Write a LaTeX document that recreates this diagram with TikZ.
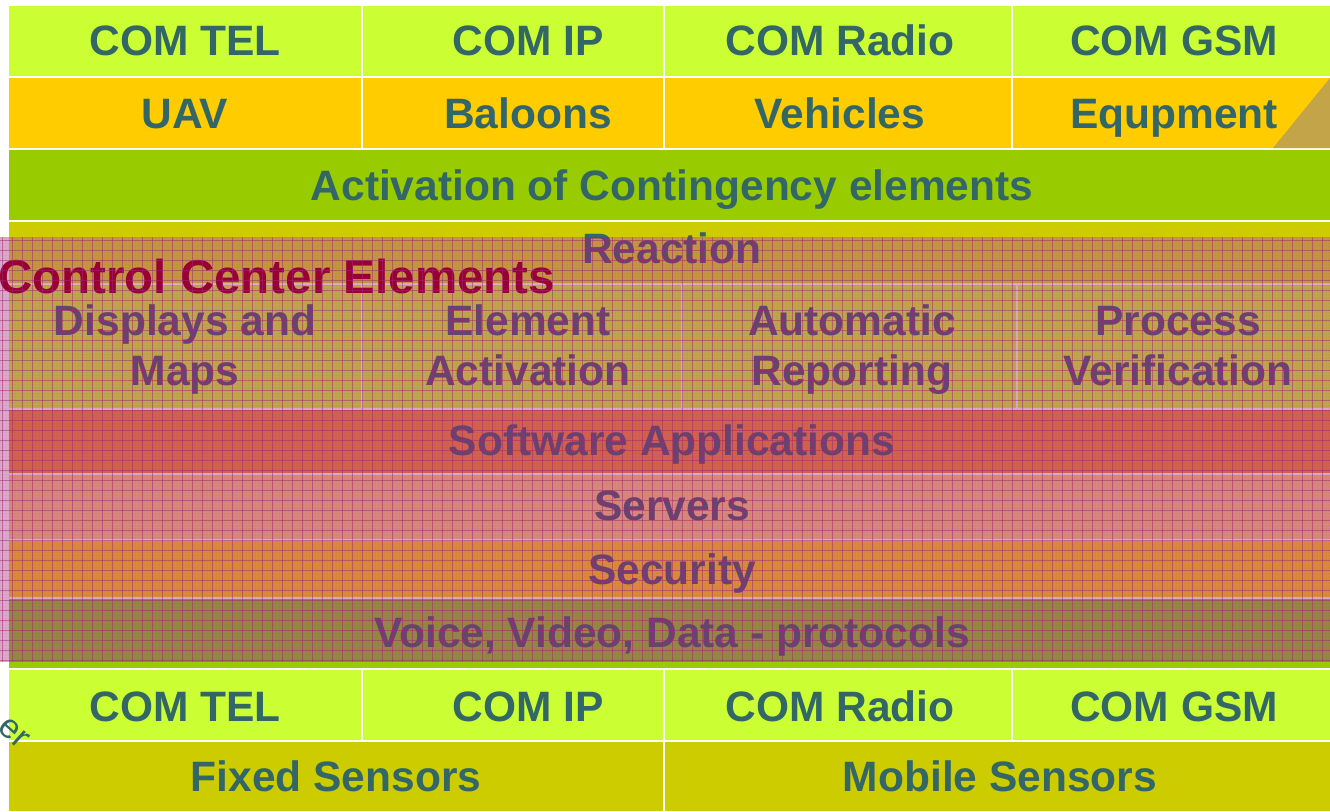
\documentclass[tikz,border=0pt]{standalone}
\usepackage{fontspec}
\setmainfont{Liberation Sans}
\usetikzlibrary{patterns}
\definecolor{limec}{HTML}{CCFF33}
\definecolor{goldc}{HTML}{FFCC00}
\definecolor{greenc}{HTML}{99CC00}
\definecolor{olivec}{HTML}{CCCC00}
\definecolor{tealc}{HTML}{336666}
\definecolor{purpc}{HTML}{654470}
\definecolor{crimc}{HTML}{990033}
\definecolor{pinkc}{HTML}{DCA8CC}
\definecolor{reacc}{HTML}{C59640}
\definecolor{dispc}{HTML}{C0A64A}
\definecolor{softc}{HTML}{D2624E}
\definecolor{servc}{HTML}{D8887A}
\definecolor{secuc}{HTML}{DA8A3A}
\definecolor{voicc}{HTML}{968644}
\definecolor{gridc}{HTML}{A02870}
\definecolor{tric}{HTML}{C4A448}
\newcommand\bigfont{\fontsize{42.5}{50}\selectfont\bfseries}
\tikzset{
  txt/.style={inner sep=0pt, anchor=base, text=tealc, font=\bigfont, align=center},
  otxt/.style={txt, text=purpc},
  sep/.style={white, line width=2pt},
  osep/.style={pinkc, line width=2pt},
  gridline/.style={gridc, line width=0.9pt, opacity=0.5}
}
\begin{document}
\begin{tikzpicture}[x=1pt,y=-1pt]
\useasboundingbox (0,0) rectangle (1330,811);
\fill[white] (0,0) rectangle (1330,811);
% row 1
\fill[limec] (9,6) rectangle (1330,76);
\draw[sep] (362,6) -- (362,76);
\draw[sep] (664,6) -- (664,76);
\draw[sep] (1012,6) -- (1012,76);
\node[txt] (t1) at (185,55) {COM TEL};
\node[txt] (t2) at (528,55) {COM IP};
\node[txt] (t3) at (840,55) {COM Radio};
\node[txt] (t4) at (1174,55) {COM GSM};
% row 2
\fill[goldc] (9,78) rectangle (1330,148);
\fill[tric] (1273,148) -- (1330,78) -- (1330,148) -- cycle;
\draw[sep] (362,78) -- (362,148);
\draw[sep] (664,78) -- (664,148);
\draw[sep] (1012,78) -- (1012,148);
\node[txt] (u1) at (185,128) {UAV};
\node[txt] (u2) at (528,128) {Baloons};
\node[txt] (u3) at (840,128) {Vehicles};
\node[txt] (u4) at (1174,128) {Equpment};
% row 3
\fill[greenc] (9,150) rectangle (1330,220);
\node[txt] (act) at (672,200) {Activation of Contingency elements};
% overlay region
\fill[olivec] (9,222) rectangle (1330,237);
\fill[pinkc] (0,237) rectangle (1330,662);
\fill[reacc] (9,237) rectangle (1330,283);
\fill[dispc] (9,285) rectangle (1330,408);
\draw[osep] (362,285) -- (362,408);
\draw[osep] (682,285) -- (682,408);
\draw[osep] (1017,285) -- (1017,408);
\fill[softc] (9,410) rectangle (1330,473);
\fill[servc] (9,475) rectangle (1330,539);
\fill[secuc] (9,541) rectangle (1330,597);
\fill[voicc] (9,599) rectangle (1330,662);
\fill[greenc] (9,662) rectangle (1330,668);
% reaction text, teal above overlay, purple inside
\begin{scope}
\clip (0,200) rectangle (1330,237);
\node[txt] (reac0) at (672,263) {Reaction};
\end{scope}
\begin{scope}
\clip (0,237) rectangle (1330,300);
\node[otxt] (reac) at (672,263) {Reaction};
\end{scope}
\node[otxt] (d1) at (185,385) {Displays and\\Maps};
\node[otxt] (d2) at (528,385) {Element\\Activation};
\node[otxt] (d3) at (852,385) {Automatic\\Reporting};
\node[otxt] (d4) at (1178,385) {Process\\Verification};
\node[otxt] (soft) at (672,455) {Software Applications};
\node[otxt] (serv) at (672,520) {Servers};
\node[otxt] (secu) at (672,584) {Security};
\node[otxt] (voic) at (672,647) {Voice, Video, Data - protocols};
\node[inner sep=0pt, anchor=base west, text=crimc, font=\fontsize{47.5}{50}\selectfont\bfseries] (ccel) at (-2,293) {Control Center Elements};
% texture and grid pattern
\fill[pattern=dots, pattern color=gridc, opacity=0.35] (0,237) rectangle (1330,662);
\foreach \x in {2,12,...,1330} {\draw[gridline] (\x,237) -- (\x,662);}
\foreach \y in {240,250,...,662} {\draw[gridline] (0,\y) -- (1330,\y);}
% row 10
\fill[limec] (9,670) rectangle (1330,740);
\draw[sep] (362,670) -- (362,740);
\draw[sep] (664,670) -- (664,740);
\draw[sep] (1012,670) -- (1012,740);
\node[txt] (b1) at (185,721) {COM TEL};
\node[txt] (b2) at (528,721) {COM IP};
\node[txt] (b3) at (840,721) {COM Radio};
\node[txt] (b4) at (1174,721) {COM GSM};
% row 11
\fill[olivec] (9,742) rectangle (1330,811);
\draw[sep] (664,742) -- (664,811);
\node[txt] (fs) at (336,791) {Fixed Sensors};
\node[txt] (ms) at (1000,791) {Mobile Sensors};
% partial rotated text
\node[inner sep=0pt, text=tealc, rotate=-42, font=\fontsize{34}{34}\selectfont] (er) at (14,733) {er};
\end{tikzpicture}
\end{document}
